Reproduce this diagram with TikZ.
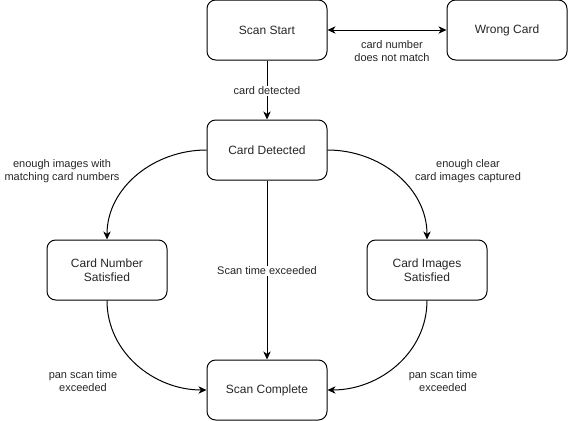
\documentclass[tikz,border=0pt]{standalone}
\usepackage{fontspec}
\setmainfont{Liberation Sans}
\usetikzlibrary{arrows.meta}
\begin{document}
\begin{tikzpicture}[x=0.75pt,y=-0.75pt,
  state/.style={draw, line width=0.75pt, rounded corners=6.5pt, minimum width=90pt, minimum height=45pt, inner sep=0pt, align=center, font=\fontsize{9}{10.5}\selectfont, text=black!85},
  lbl/.style={align=center, font=\fontsize{8.25}{9.8}\selectfont, text=black!85, fill=white, inner sep=1pt},
  conn/.style={line width=0.75pt, -{Stealth[length=6pt,width=5.5pt,inset=1.8pt]}}]
\useasboundingbox (0,0) rectangle (568,421);
\node[state] (ss) at (267,30) {Scan Start};
\node[state] (wc) at (507,30) {Wrong Card};
\node[state] (cd) at (267,150) {Card Detected};
\node[state] (cns) at (107,270) {Card Number\\Satisfied};
\node[state] (cis) at (427,270) {Card Images\\Satisfied};
\node[state] (sc) at (267,390) {Scan Complete};

\draw[conn, {Stealth[length=6pt,width=5.5pt,inset=1.8pt]}-{Stealth[length=6pt,width=5.5pt,inset=1.8pt]}] (ss) -- (wc);
\node[lbl] (l1) at (392,51) {card number\\does not match};

\draw[conn] (ss) -- (cd);
\node[lbl] (l2) at (267,91) {card detected};

\draw[conn] (cd) -- (sc);
\node[lbl] (l3) at (267,271) {Scan time exceeded};

\draw[conn] (cd.west) to[out=180,in=90,looseness=1.0] (cns.north);
\node[lbl, fill=none] (l4) at (62,171) {enough images with\\matching card numbers};

\draw[conn] (cd.east) to[out=0,in=90,looseness=1.0] (cis.north);
\node[lbl, fill=none] (l5) at (468,171) {enough clear\\card images captured};

\draw[conn] (cns.south) to[out=-90,in=180,looseness=1.0] (sc.west);
\node[lbl, fill=none] (l6) at (83,381) {pan scan time\\exceeded};

\draw[conn] (cis.south) to[out=-90,in=0,looseness=1.0] (sc.east);
\node[lbl, fill=none] (l7) at (443,381) {pan scan time\\exceeded};
\end{tikzpicture}
\end{document}
